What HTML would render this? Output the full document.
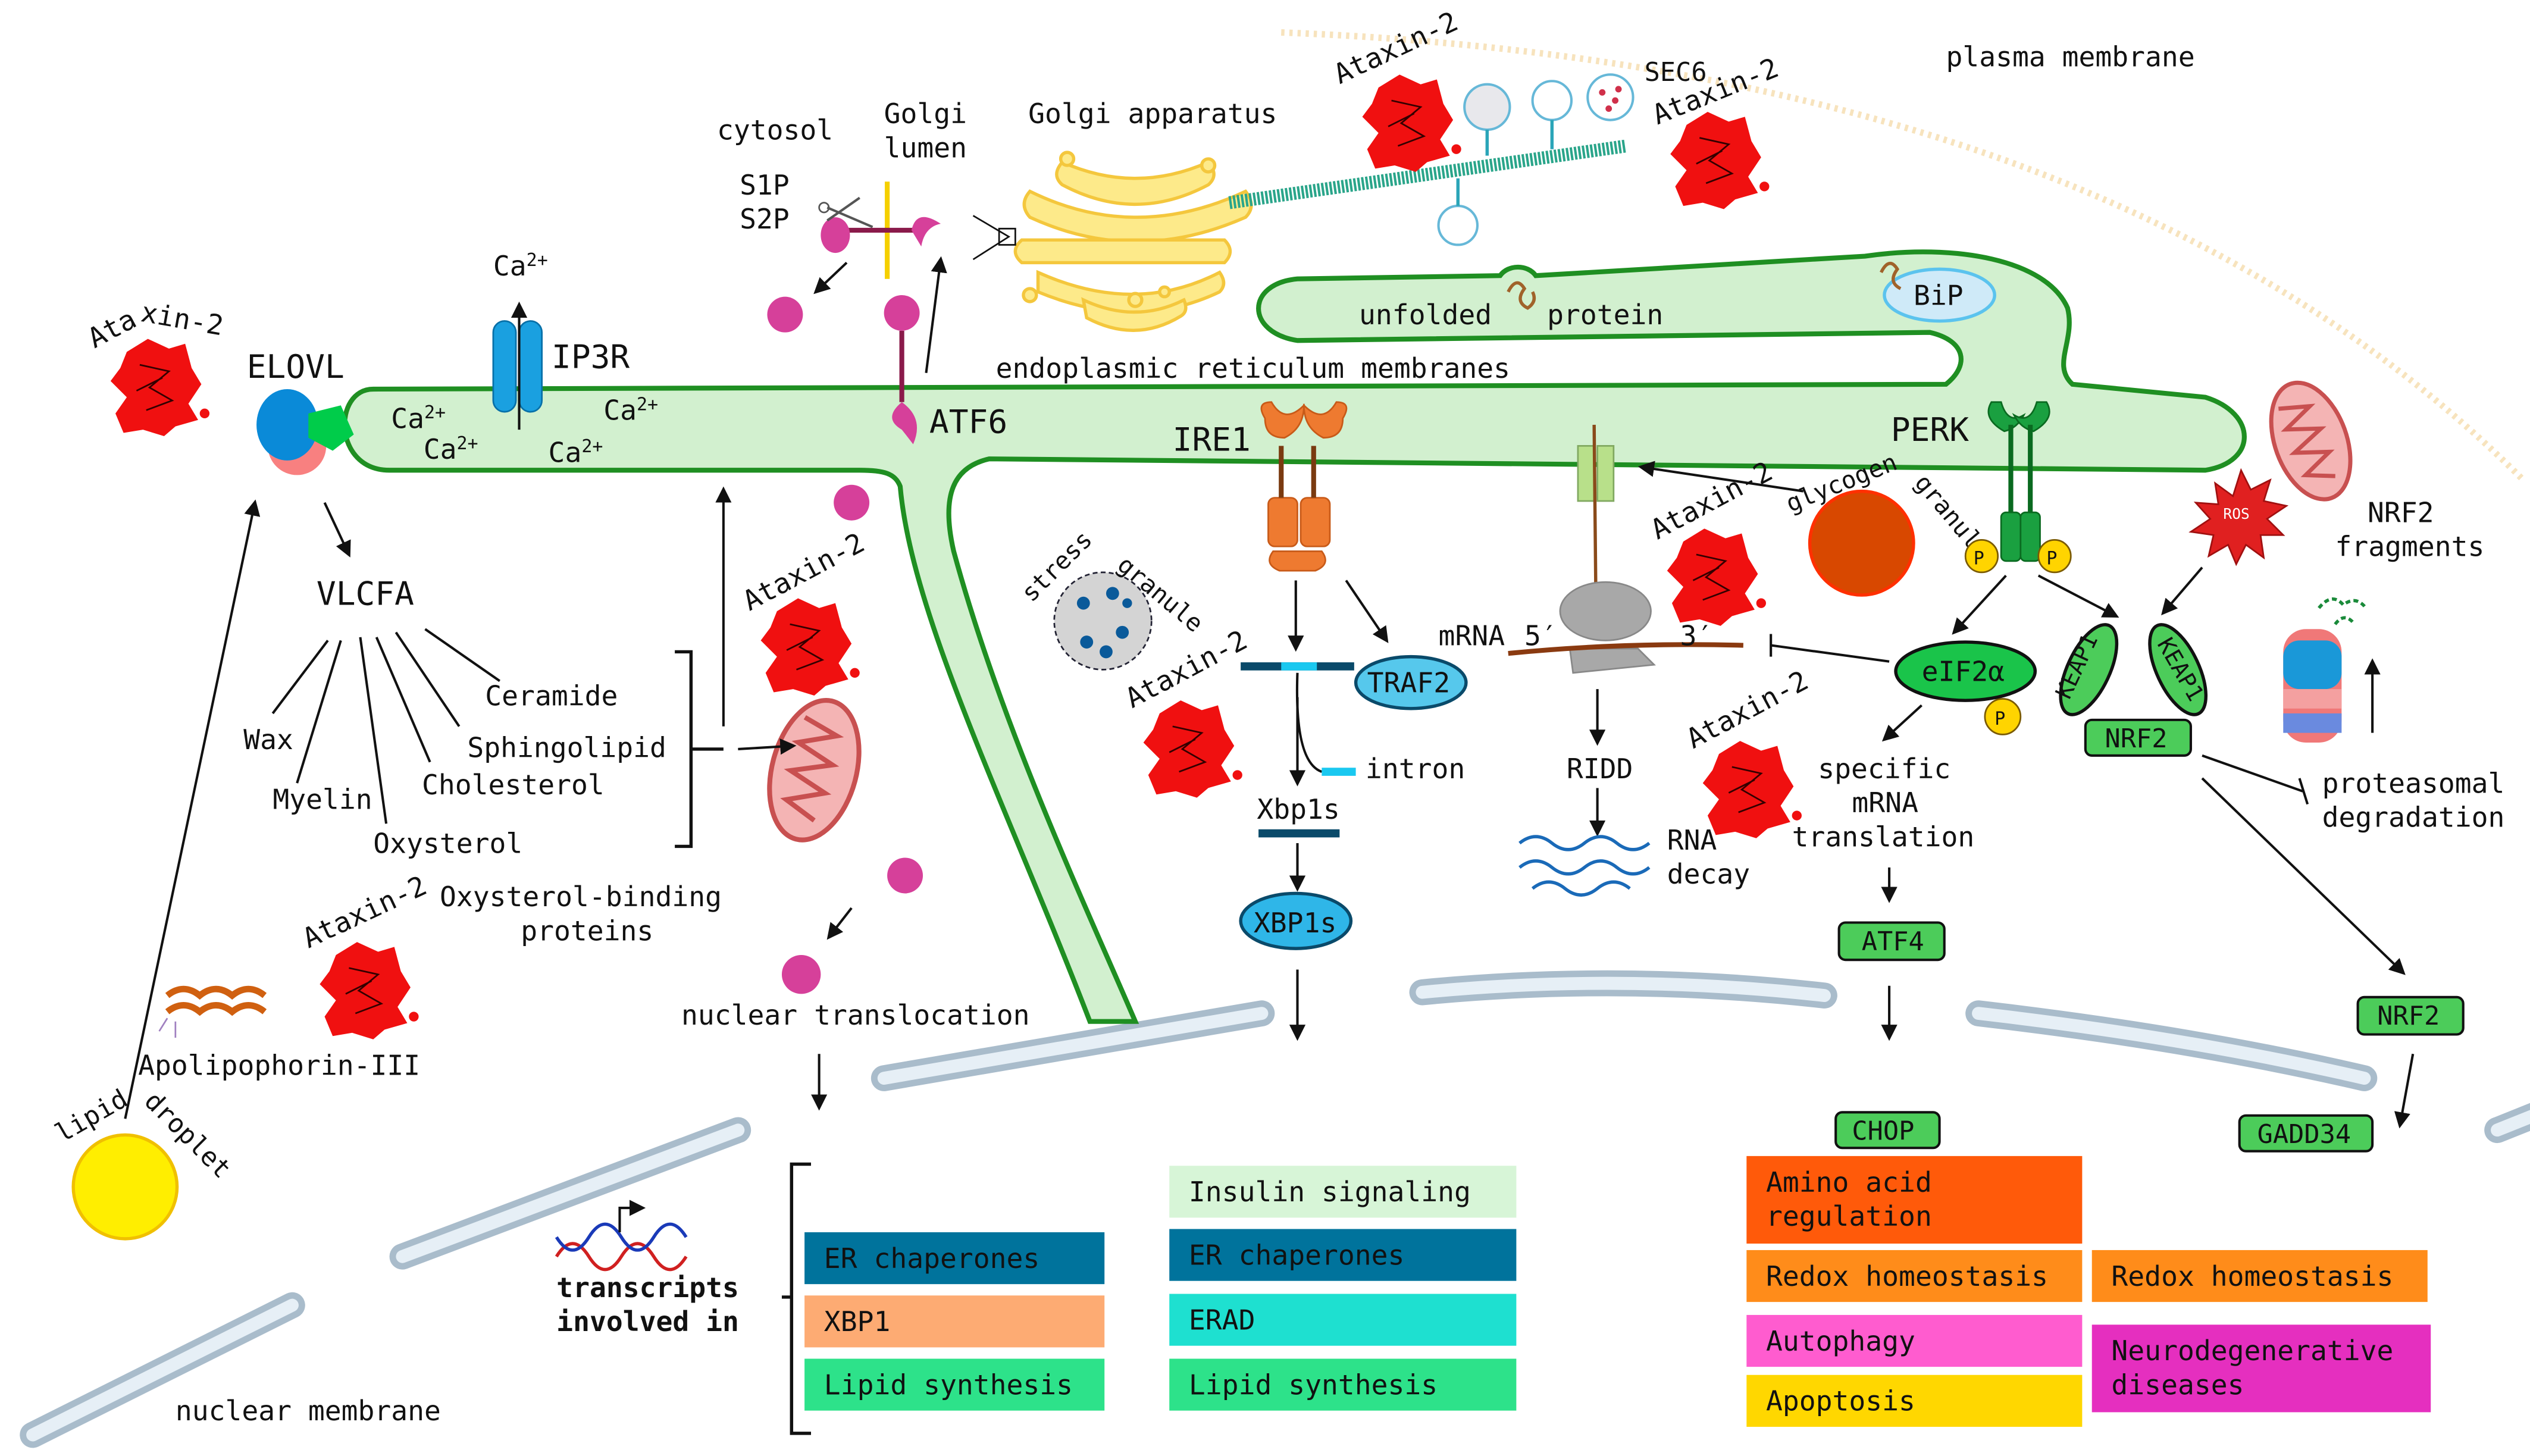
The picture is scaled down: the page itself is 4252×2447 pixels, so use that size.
<!DOCTYPE html>
<html><head><meta charset="utf-8"><style>
html,body{margin:0;padding:0;background:#fff;}
svg{display:block;}
text{font-family:"DejaVu Sans Mono","Liberation Mono",monospace;fill:#111;}
</style></head><body>
<svg width="4252" height="2447" viewBox="0 0 1560 898" xmlns="http://www.w3.org/2000/svg">
<defs>
<marker id="ar" markerWidth="10" markerHeight="10" refX="8" refY="5" orient="auto" markerUnits="userSpaceOnUse"><path d="M0,0 L10,5 L0,10 Z" fill="#111"/></marker>
<g id="atx">
<path d="M-18,-20 L-5,-28 L8,-22 L18,-25 L22,-10 L28,0 L20,12 L26,22 L12,26 L5,32 L-8,28 L-20,30 L-25,18 L-18,8 L-28,-2 L-22,-10 Z" fill="#f01010"/>
<path d="M-10,-12 L8,-8 L-4,2 L10,10 L-6,16 M-12,4 L4,-4" stroke="#300" stroke-width="1" fill="none"/>
<circle cx="30" cy="18" r="3" fill="#f01010"/>
</g>
<g id="mito">
<ellipse cx="0" cy="0" rx="26" ry="44" fill="#f4b4b4" stroke="#c85050" stroke-width="3"/>
<path d="M-14,-30 L8,-24 L-14,-14 L10,-6 L-14,4 L10,12 L-12,22 L8,30" fill="none" stroke="#c85050" stroke-width="3"/>
</g>
</defs>

<!-- plasma membrane -->
<path d="M790,20 Q1300,40 1555,295" fill="none" stroke="#f7e3bd" stroke-width="4" stroke-dasharray="2,3"/>

<!-- nuclear membranes -->
<g stroke-linecap="round" fill="none">
<g stroke="#a9bccb" stroke-width="16">
<path d="M545,665 L778,625"/><path d="M248,775 L455,697"/><path d="M20,885 L180,805"/>
<path d="M877,612 Q1000,600 1125,614"/><path d="M1220,625 Q1350,640 1458,665"/><path d="M1540,697 L1570,685"/>
</g>
<g stroke="#e6eff6" stroke-width="8">
<path d="M545,665 L778,625"/><path d="M248,775 L455,697"/><path d="M20,885 L180,805"/>
<path d="M877,612 Q1000,600 1125,614"/><path d="M1220,625 Q1350,640 1458,665"/><path d="M1540,697 L1570,685"/>
</g>
</g>

<!-- ER -->
<path d="M230,240 L1200,237 C1215,225 1212,210 1190,205 L800,210 C768,205 768,175 800,172 L925,170 C930,163 942,163 947,170 L1150,158 C1205,150 1262,160 1275,190 C1280,210 1265,225 1278,237 L1360,245 C1392,255 1392,285 1360,290 L610,283 C588,288 580,305 588,340 C618,450 670,560 700,630 L672,630 C622,500 562,380 555,300 C552,292 545,290 530,290 L240,290 C205,290 205,240 230,240 Z" fill="#d2f0cf" stroke="#1f8f22" stroke-width="3"/>

<!-- Golgi -->
<g fill="#fdea8a" stroke="#f4c73d" stroke-width="2">
<path d="M655,100 Q700,120 745,100 Q752,108 745,114 Q700,138 655,114 Q648,108 655,100 Z"/>
<path d="M635,118 Q700,150 768,118 Q775,127 768,134 Q700,164 635,134 Q628,126 635,118 Z"/>
<path d="M630,148 L755,148 Q762,155 755,162 L630,162 Q622,155 630,148 Z"/>
<path d="M640,168 Q700,195 752,168 Q757,175 752,180 Q700,205 640,180 Z"/>
<path d="M668,185 Q700,200 730,185 Q733,192 728,195 Q700,212 670,196 Z"/>
<circle cx="658" cy="98" r="4"/><circle cx="745" cy="102" r="4"/><circle cx="635" cy="182" r="4"/><circle cx="700" cy="185" r="4"/><circle cx="718" cy="180" r="3"/>
</g>
<!-- microtubule -->
<path d="M758,125 L1003,90" stroke="#2aa58a" stroke-width="8" stroke-dasharray="1.5,1"/>
<g fill="#fff" stroke="#66b8d8" stroke-width="1.5">
<circle cx="917" cy="66" r="14" fill="#e8e8ec"/><circle cx="957" cy="62" r="12"/><circle cx="993" cy="60" r="14"/>
<circle cx="899" cy="139" r="12"/>
</g>
<g fill="#d0304a"><circle cx="988" cy="57" r="2"/><circle cx="996" cy="62" r="2"/><circle cx="992" cy="67" r="2"/><circle cx="998" cy="55" r="2"/></g>
<path d="M917,80 L917,96 M957,74 L957,92 M899,110 L899,127" stroke="#2aa5b8" stroke-width="2"/>

<!-- Ataxin-2 -->
<use href="#atx" x="96" y="237"/><use href="#atx" x="868" y="74"/><use href="#atx" x="1058" y="97"/>
<use href="#atx" x="497" y="397"/><use href="#atx" x="1056" y="354"/><use href="#atx" x="733" y="460"/>
<use href="#atx" x="1078" y="485"/><use href="#atx" x="225" y="609"/>
<g font-size="17">
<text transform="translate(58,215) rotate(-28)">Ata</text><text transform="translate(86,198) rotate(10)">xin-2</text>
<text transform="translate(826,52) rotate(-25)">Ataxin-2</text>
<text transform="translate(1022,77) rotate(-22)">Ataxin-2</text>
<text transform="translate(462,377) rotate(-28)">Ataxin-2</text>
<text transform="translate(1022,333) rotate(-28)">Ataxin-2</text>
<text transform="translate(698,437) rotate(-28)">Ataxin-2</text>
<text transform="translate(1044,462) rotate(-28)">Ataxin-2</text>
<text transform="translate(190,585) rotate(-25)">Ataxin-2</text>
</g>

<!-- ELOVL -->
<circle cx="183" cy="275" r="18" fill="#f88080"/>
<ellipse cx="177" cy="262" rx="19" ry="22" fill="#0a8ad8"/>
<path d="M190,255 L210,250 L218,268 L205,278 L190,270 Z" fill="#00cc4a"/>
<text x="152" y="233" font-size="20">ELOVL</text>

<!-- IP3R -->
<rect x="304" y="198" width="14" height="56" rx="7" fill="#1aa0e0" stroke="#0870a8"/>
<rect x="320" y="198" width="14" height="56" rx="7" fill="#1aa0e0" stroke="#0870a8"/>
<line x1="320" y1="265" x2="320" y2="188" stroke="#111" stroke-width="1.5" marker-end="url(#ar)"/>
<text x="340" y="227" font-size="20">IP3R</text>
<text x="304" y="170" font-size="17">Ca<tspan font-size="11" dy="-6">2+</tspan></text>
<g font-size="17">
<text x="241" y="264">Ca<tspan font-size="11" dy="-6">2+</tspan></text>
<text x="261" y="283">Ca<tspan font-size="11" dy="-6">2+</tspan></text>
<text x="338" y="285">Ca<tspan font-size="11" dy="-6">2+</tspan></text>
<text x="372" y="259">Ca<tspan font-size="11" dy="-6">2+</tspan></text>
</g>

<!-- ATF6 and S1P -->
<line x1="547" y1="112" x2="547" y2="172" stroke="#f5d000" stroke-width="3"/>
<line x1="518" y1="142" x2="568" y2="142" stroke="#8a1a4a" stroke-width="3"/>
<ellipse cx="515" cy="145" rx="9" ry="11" fill="#d6409a"/>
<path d="M562,142 Q565,128 580,138 Q570,140 568,152 Z" fill="#d6409a"/>
<path d="M510,128 L538,140 M510,136 L530,122" stroke="#555" stroke-width="1.5"/>
<circle cx="508" cy="128" r="3" fill="none" stroke="#555"/>
<ellipse cx="484" cy="194" rx="11" ry="11" fill="#d6409a"/>
<ellipse cx="556" cy="193" rx="11" ry="11" fill="#d6409a"/>
<line x1="556" y1="204" x2="556" y2="248" stroke="#8a1a4a" stroke-width="3"/>
<path d="M556,248 Q544,258 556,265 Q560,270 563,274 Q570,258 556,248 Z" fill="#d6409a"/>
<ellipse cx="525" cy="310" rx="11" ry="11" fill="#d6409a"/>
<ellipse cx="558" cy="540" rx="11" ry="11" fill="#d6409a"/>
<ellipse cx="494" cy="601" rx="12" ry="12" fill="#d6409a"/>
<path d="M600,133 L622,146 L600,160 M616,141 h10 v10 h-10 z" fill="none" stroke="#111" stroke-width="1"/>
<text x="573" y="267" font-size="20">ATF6</text>
<text x="442" y="86" font-size="17">cytosol</text>
<text x="545" y="76" font-size="17">Golgi</text><text x="545" y="97" font-size="17">lumen</text>
<text x="634" y="76" font-size="17">Golgi apparatus</text>
<text x="456" y="120" font-size="17">S1P</text><text x="456" y="141" font-size="17">S2P</text>
<line x1="522" y1="162" x2="503" y2="180" stroke="#111" stroke-width="1.5" marker-end="url(#ar)"/>
<line x1="571" y1="230" x2="580" y2="160" stroke="#111" stroke-width="1.5" marker-end="url(#ar)"/>
<line x1="525" y1="560" x2="511" y2="578" stroke="#111" stroke-width="1.5" marker-end="url(#ar)"/>
<line x1="505" y1="650" x2="505" y2="683" stroke="#111" stroke-width="1.5" marker-end="url(#ar)"/>

<text x="838" y="200" font-size="17">unfolded</text><text x="954" y="200" font-size="17">protein</text>
<path d="M930,180 q5,-10 10,-2 q-6,8 2,12 q6,-4 3,-10" fill="none" stroke="#a0622a" stroke-width="2"/>
<ellipse cx="1196" cy="182" rx="34" ry="16" fill="#cfeaf8" stroke="#5bc3ee" stroke-width="2"/>
<text x="1180" y="188" font-size="17">BiP</text>
<path d="M1160,168 q5,-10 10,-2 q-6,8 2,12" fill="none" stroke="#a0622a" stroke-width="2"/>
<text x="614" y="233" font-size="17">endoplasmic reticulum membranes</text>
<text x="1200" y="41" font-size="17">plasma membrane</text>
<text x="1014" y="50" font-size="16">SEC6</text>

<!-- IRE1 -->
<g fill="#ee7a30" stroke="#c85a18">
<path d="M780,258 q-6,-10 4,-10 q8,14 20,2 q0,14 -12,20 q-12,0 -12,-12 z"/>
<path d="M828,258 q6,-10 -4,-10 q-8,14 -20,2 q0,14 12,20 q12,0 12,-12 z"/>
<rect x="782" y="307" width="18" height="30" rx="4"/><rect x="802" y="307" width="18" height="30" rx="4"/>
<path d="M785,340 q-6,8 4,12 h22 q10,-4 4,-12 z"/>
</g>
<line x1="790" y1="275" x2="790" y2="307" stroke="#7a3a10" stroke-width="3"/>
<line x1="810" y1="275" x2="810" y2="307" stroke="#7a3a10" stroke-width="3"/>
<text x="723" y="278" font-size="20">IRE1</text>
<line x1="799" y1="358" x2="799" y2="400" stroke="#111" stroke-width="1.5" marker-end="url(#ar)"/>
<line x1="830" y1="358" x2="855" y2="395" stroke="#111" stroke-width="1.5" marker-end="url(#ar)"/>
<line x1="765" y1="411" x2="835" y2="411" stroke="#0a4a6a" stroke-width="5"/>
<line x1="790" y1="411" x2="812" y2="411" stroke="#1ac8f0" stroke-width="5"/>
<path d="M800,415 Q798,470 815,476" fill="none" stroke="#111" stroke-width="1.5"/>
<line x1="815" y1="476" x2="836" y2="476" stroke="#1ac8f0" stroke-width="5"/>
<line x1="800" y1="430" x2="800" y2="483" stroke="#111" stroke-width="1.5" marker-end="url(#ar)"/>
<ellipse cx="870" cy="421" rx="34" ry="16" fill="#56c8ec" stroke="#0a4a6a" stroke-width="2"/>
<text x="843" y="427" font-size="17">TRAF2</text>
<text x="842" y="480" font-size="17">intron</text>
<text x="775" y="505" font-size="17">Xbp1s</text>
<line x1="776" y1="514" x2="826" y2="514" stroke="#0a4a6a" stroke-width="5"/>
<line x1="800" y1="520" x2="800" y2="548" stroke="#111" stroke-width="1.5" marker-end="url(#ar)"/>
<ellipse cx="799" cy="568" rx="34" ry="17" fill="#2fb6e8" stroke="#0a4a6a" stroke-width="2"/>
<text x="773" y="575" font-size="17">XBP1s</text>
<line x1="800" y1="598" x2="800" y2="640" stroke="#111" stroke-width="1.5" marker-end="url(#ar)"/>

<!-- stress granule -->
<circle cx="680" cy="383" r="30" fill="#d4d4d4" stroke="#223" stroke-width="1" stroke-dasharray="3,2"/>
<g fill="#0a5a9a"><circle cx="668" cy="372" r="4"/><circle cx="686" cy="366" r="4"/><circle cx="692" cy="390" r="4"/><circle cx="670" cy="396" r="4"/><circle cx="682" cy="402" r="4"/><circle cx="695" cy="372" r="3"/></g>
<text transform="translate(636,372) rotate(-45)" font-size="15">stress</text>
<text transform="translate(688,350) rotate(40)" font-size="15">granule</text>

<!-- translocon / ribosome -->
<rect x="973" y="275" width="10" height="34" fill="#b8e08a" stroke="#80a860"/>
<rect x="985" y="275" width="10" height="34" fill="#b8e08a" stroke="#80a860"/>
<path d="M983,262 L984,362" stroke="#8a4a1a" stroke-width="2"/>
<ellipse cx="990" cy="377" rx="28" ry="18" fill="#a8a8a8" stroke="#888"/>
<path d="M968,400 L1010,400 L1020,410 L970,415 Z" fill="#a8a8a8" stroke="#888"/>
<path d="M930,403 Q1000,396 1075,398" fill="none" stroke="#8a3a10" stroke-width="3"/>
<text x="887" y="398" font-size="17">mRNA</text><text x="940" y="398" font-size="17">5′</text><text x="1036" y="398" font-size="17">3′</text>
<line x1="985" y1="425" x2="985" y2="458" stroke="#111" stroke-width="1.5" marker-end="url(#ar)"/>
<text x="966" y="480" font-size="17">RIDD</text>
<line x1="985" y1="486" x2="985" y2="514" stroke="#111" stroke-width="1.5" marker-end="url(#ar)"/>
<path d="M937,520 q10,-8 20,0 t20,0 t20,0 t20,0 M937,535 q10,-8 20,0 t20,0 t20,0 t20,0 M945,548 q10,-8 20,0 t20,0 t20,0" fill="none" stroke="#1a6ab8" stroke-width="2"/>
<text x="1028" y="524" font-size="17">RNA</text><text x="1028" y="545" font-size="17">decay</text>
<circle cx="1148" cy="335" r="32" fill="#d84800" stroke="#ff3000" stroke-width="2"/>
<text transform="translate(1104,316) rotate(-22)" font-size="15">glycogen</text>
<text transform="translate(1180,298) rotate(50)" font-size="15">granule</text>
<line x1="1112" y1="303" x2="1012" y2="288" stroke="#111" stroke-width="1.5" marker-end="url(#ar)"/>

<!-- PERK -->
<g fill="#1aa040" stroke="#0a6a20">
<path d="M1228,248 q-6,10 8,18 q8,-2 12,-10 q-10,6 -14,-8 z"/>
<path d="M1262,248 q6,10 -8,18 q-8,-2 -12,-10 q10,6 14,-8 z"/>
<rect x="1234" y="316" width="12" height="30" rx="3"/><rect x="1246" y="316" width="12" height="30" rx="3"/>
</g>
<line x1="1240" y1="262" x2="1240" y2="316" stroke="#0a6a20" stroke-width="3"/>
<line x1="1252" y1="262" x2="1252" y2="316" stroke="#0a6a20" stroke-width="3"/>
<circle cx="1222" cy="343" r="10" fill="#ffd400" stroke="#7a5a00"/><text x="1217" y="348" font-size="11">P</text>
<circle cx="1267" cy="343" r="10" fill="#ffd400" stroke="#7a5a00"/><text x="1262" y="348" font-size="11">P</text>
<text x="1166" y="272" font-size="20">PERK</text>
<line x1="1237" y1="355" x2="1205" y2="390" stroke="#111" stroke-width="1.5" marker-end="url(#ar)"/>
<line x1="1257" y1="355" x2="1305" y2="380" stroke="#111" stroke-width="1.5" marker-end="url(#ar)"/>
<ellipse cx="1212" cy="414" rx="43" ry="18" fill="#1ac44a" stroke="#111" stroke-width="2"/>
<text x="1185" y="420" font-size="17">eIF2α</text>
<circle cx="1235" cy="442" r="11" fill="#ffd400" stroke="#7a5a00"/><text x="1230" y="447" font-size="11">P</text>
<path d="M1165,408 L1092,398 M1092,391 L1092,405" stroke="#111" stroke-width="1.5" fill="none"/>
<line x1="1185" y1="435" x2="1162" y2="456" stroke="#111" stroke-width="1.5" marker-end="url(#ar)"/>
<text x="1121" y="480" font-size="17">specific</text><text x="1142" y="501" font-size="17">mRNA</text><text x="1105" y="522" font-size="17">translation</text>
<line x1="1165" y1="535" x2="1165" y2="555" stroke="#111" stroke-width="1.5" marker-end="url(#ar)"/>
<line x1="1165" y1="608" x2="1165" y2="640" stroke="#111" stroke-width="1.5" marker-end="url(#ar)"/>

<!-- KEAP1 / NRF2 -->
<ellipse cx="1288" cy="413" rx="13" ry="30" transform="rotate(25 1288 413)" fill="#4ccc5a" stroke="#111" stroke-width="2"/>
<ellipse cx="1343" cy="413" rx="13" ry="30" transform="rotate(-25 1343 413)" fill="#4ccc5a" stroke="#111" stroke-width="2"/>
<text transform="translate(1276,432) rotate(-65)" font-size="14">KEAP1</text>
<text transform="translate(1330,397) rotate(60)" font-size="14">KEAP1</text>
<line x1="1358" y1="350" x2="1334" y2="378" stroke="#111" stroke-width="1.5" marker-end="url(#ar)"/>
<path d="M1382,290 l6,12 12,-6 -4,13 14,3 -12,8 10,10 -14,0 2,14 -11,-8 -6,12 -5,-12 -12,7 3,-13 -14,-2 12,-8 -9,-10 14,1 -2,-13 11,8 z" fill="#e02020" stroke="#a01010"/>
<text x="1371" y="320" font-size="9" fill="#fff" style="fill:#fff">ROS</text>
<use href="#mito" transform="translate(1425,272) rotate(-20) scale(0.85)"/>
<use href="#mito" x="502" y="475" transform="rotate(15 502 475)"/>
<text x="1460" y="322" font-size="17">NRF2</text><text x="1440" y="343" font-size="17">fragments</text>
<path d="M1430,375 q8,-10 15,-2 q8,-6 14,2 M1440,385 q6,-8 12,0" fill="none" stroke="#1a8a3a" stroke-width="2" stroke-dasharray="3,2"/>
<g>
<rect x="1408" y="388" width="36" height="70" rx="14" fill="#f07878"/>
<rect x="1408" y="395" width="36" height="30" rx="10" fill="#1a98d8"/>
<rect x="1408" y="425" width="36" height="12" fill="#f4a0a0"/>
<rect x="1408" y="440" width="36" height="12" fill="#6a8adf"/>
</g>
<line x1="1463" y1="452" x2="1463" y2="408" stroke="#111" stroke-width="1.5" marker-end="url(#ar)"/>
<text x="1432" y="489" font-size="17">proteasomal</text><text x="1432" y="510" font-size="17">degradation</text>
<path d="M1358,466 L1420,488 M1418,480 L1423,496" stroke="#111" stroke-width="1.5" fill="none"/>
<line x1="1358" y1="480" x2="1482" y2="600" stroke="#111" stroke-width="1.5" marker-end="url(#ar)"/>
<line x1="1488" y1="650" x2="1480" y2="694" stroke="#111" stroke-width="1.5" marker-end="url(#ar)"/>

<g stroke="#111" stroke-width="1.5" fill="#4ccc5a">
<rect x="1286" y="444" width="65" height="22" rx="4"/>
<rect x="1454" y="615" width="65" height="23" rx="4"/>
<rect x="1381" y="688" width="82" height="22" rx="4"/>
<rect x="1134" y="569" width="65" height="23" rx="4"/>
<rect x="1132" y="686" width="64" height="22" rx="4"/>
</g>
<g font-size="16">
<text x="1298" y="461">NRF2</text><text x="1466" y="632">NRF2</text><text x="1392" y="705">GADD34</text>
<text x="1148" y="586">ATF4</text><text x="1142" y="703">CHOP</text>
</g>

<!-- left lipid stuff -->
<circle cx="77" cy="732" r="32" fill="#ffee00" stroke="#f0c000" stroke-width="2"/>
<text transform="translate(38,705) rotate(-30)" font-size="16">lipid</text>
<text transform="translate(88,680) rotate(45)" font-size="16">droplet</text>
<line x1="77" y1="690" x2="157" y2="310" stroke="#111" stroke-width="1.5" marker-end="url(#ar)"/>
<line x1="200" y1="310" x2="215" y2="342" stroke="#111" stroke-width="1.5" marker-end="url(#ar)"/>
<text x="195" y="373" font-size="20">VLCFA</text>
<g stroke="#111" stroke-width="1.5">
<line x1="202" y1="395" x2="168" y2="440"/><line x1="210" y1="395" x2="183" y2="483"/>
<line x1="222" y1="393" x2="238" y2="508"/><line x1="232" y1="393" x2="265" y2="470"/>
<line x1="244" y1="390" x2="283" y2="448"/><line x1="262" y1="388" x2="308" y2="420"/>
</g>
<g font-size="17">
<text x="150" y="462">Wax</text><text x="168" y="499">Myelin</text><text x="230" y="526">Oxysterol</text>
<text x="260" y="490">Cholesterol</text><text x="288" y="467">Sphingolipid</text><text x="299" y="435">Ceramide</text>
<text x="271" y="559">Oxysterol-binding</text><text x="321" y="580">proteins</text>
</g>
<path d="M416,402 h10 v120 h-10 M426,462 h20" fill="none" stroke="#111" stroke-width="2"/>
<line x1="446" y1="448" x2="446" y2="302" stroke="#111" stroke-width="1.5" marker-end="url(#ar)"/>
<line x1="455" y1="462" x2="489" y2="460" stroke="#111" stroke-width="1.5" marker-end="url(#ar)"/>
<g transform="translate(133,620)">
<path d="M-30,-6 q10,-8 20,0 q10,-8 20,0 q10,-8 20,0 M-30,4 q10,-8 20,0 q10,-8 20,0 q10,-8 20,0" fill="none" stroke="#d06010" stroke-width="4"/>
<path d="M-30,8 l-5,8 M-25,10 l0,10" stroke="#a080c0"/>
</g>
<text x="85" y="663" font-size="17">Apolipophorin-III</text>
<text x="420" y="632" font-size="17">nuclear translocation</text>
<text x="108" y="876" font-size="17">nuclear membrane</text>

<!-- DNA & transcripts -->
<path d="M343,775 q10,-16 20,0 t20,0 t20,0 t20,0" fill="none" stroke="#d02020" stroke-width="2"/>
<path d="M343,763 q10,16 20,0 t20,0 t20,0 t20,0" fill="none" stroke="#1a3ab8" stroke-width="2"/>
<path d="M382,760 v-15 h14" fill="none" stroke="#111" stroke-width="1.5" marker-end="url(#ar)"/>
<text x="343" y="800" font-size="17" font-weight="bold">transcripts</text>
<text x="343" y="821" font-size="17" font-weight="bold">involved in</text>
<path d="M500,718 h-12 v166 h12 M488,800 h-6" fill="none" stroke="#111" stroke-width="2"/>

<!-- boxes -->
<g font-size="17">
<rect x="496" y="760" width="185" height="32" fill="#00739c"/><text x="508" y="782">ER chaperones</text>
<rect x="496" y="799" width="185" height="32" fill="#fdab73"/><text x="508" y="821">XBP1</text>
<rect x="496" y="838" width="185" height="32" fill="#2de28a"/><text x="508" y="860">Lipid synthesis</text>
<rect x="721" y="719" width="214" height="32" fill="#d7f5d7"/><text x="733" y="741">Insulin signaling</text>
<rect x="721" y="758" width="214" height="32" fill="#00739c"/><text x="733" y="780">ER chaperones</text>
<rect x="721" y="798" width="214" height="32" fill="#1ee0d0"/><text x="733" y="820">ERAD</text>
<rect x="721" y="838" width="214" height="32" fill="#2de28a"/><text x="733" y="860">Lipid synthesis</text>
<rect x="1077" y="713" width="207" height="54" fill="#ff5a0a"/><text x="1089" y="735">Amino acid</text><text x="1089" y="756">regulation</text>
<rect x="1077" y="771" width="207" height="32" fill="#ff8c1a"/><text x="1089" y="793">Redox homeostasis</text>
<rect x="1077" y="811" width="207" height="32" fill="#ff5ccf"/><text x="1089" y="833">Autophagy</text>
<rect x="1077" y="848" width="207" height="32" fill="#ffd700"/><text x="1089" y="870">Apoptosis</text>
<rect x="1290" y="771" width="207" height="32" fill="#ff8c1a"/><text x="1302" y="793">Redox homeostasis</text>
<rect x="1290" y="817" width="209" height="54" fill="#e52fbf"/><text x="1302" y="839">Neurodegenerative</text><text x="1302" y="860">diseases</text>
</g>
</svg>
</body></html>
